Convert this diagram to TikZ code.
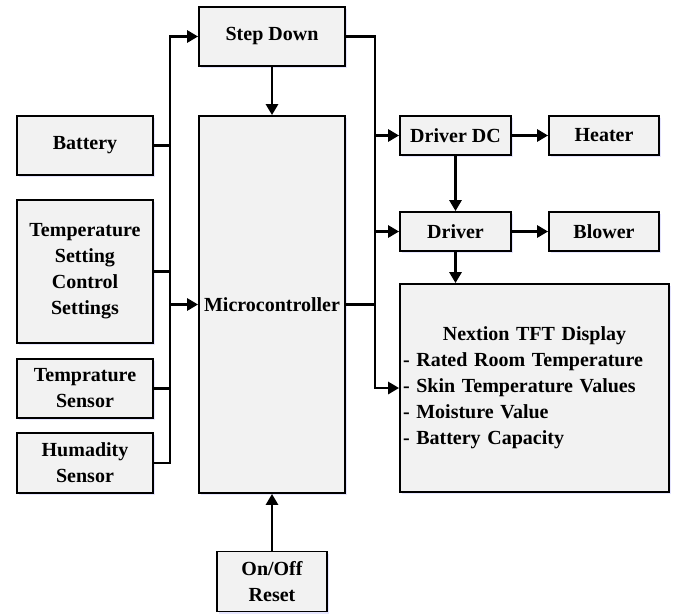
\documentclass[tikz,border=0pt]{standalone}
\usepackage{fontspec}
\setmainfont{Liberation Serif}
\usetikzlibrary{arrows.meta,shadows}
\begin{document}
\begin{tikzpicture}[x=1pt, y=-1pt,
  font=\fontsize{20}{26}\selectfont\bfseries,
  blk/.style={draw, line width=1.8pt, fill=gray!10, align=center, inner sep=2pt,
    drop shadow={shadow xshift=2pt, shadow yshift=-2pt, fill=blue!40!white, opacity=0.25}},
  wire/.style={line width=2.8pt},
  arr/.style={wire, -{Triangle[length=11pt, width=12pt]}}]
  \useasboundingbox (0,0) rectangle (674,613);
  % inputs
  \node[blk, minimum width=136pt, minimum height=59pt] (batt) at (85,145.5) {Battery};
  \node[blk, minimum width=136pt, minimum height=143pt] (tempset) at (85,271.5) {Temperature\\Setting\\Control\\Settings};
  \node[blk, minimum width=136pt, minimum height=59pt] (tsens) at (85,388.5) {Temprature\\Sensor};
  \node[blk, minimum width=136pt, minimum height=60pt] (hsens) at (85,463) {Humadity\\Sensor};
  % core
  \node[blk, minimum width=146pt, minimum height=59pt] (stepdn) at (272,36.5) {Step Down};
  \node[blk, minimum width=146pt, minimum height=377pt] (mcu) at (272,304.5) {Microcontroller};
  \node[blk, minimum width=110pt, minimum height=60pt] (onoff) at (272,581.5) {On/Off\\Reset};
  % outputs
  \node[blk, minimum width=111pt, minimum height=39pt] (drvdc) at (455.5,135.5) {Driver DC};
  \node[blk, minimum width=110pt, minimum height=39pt] (heater) at (604,135.5) {Heater};
  \node[blk, minimum width=111pt, minimum height=39pt] (drv) at (455.5,231.5) {Driver};
  \node[blk, minimum width=110pt, minimum height=39pt] (blower) at (604,231.5) {Blower};
  \node[blk, minimum width=269pt, minimum height=208pt, text width=263pt, align=left] (disp) at (534.5,388)
    {\hfill Nextion TFT Display\hfill\null\\- Rated Room Temperature\\- Skin Temperature Values\\- Moisture Value\\- Battery Capacity};
  % buses
  \coordinate (lbus) at (170,0);
  \coordinate (rbus) at (375,0);
  \draw[arr] (hsens.east) -- (hsens.east -| lbus) |- (stepdn.west);
  \draw[wire] (batt.east) -- (batt.east -| lbus);
  \draw[wire] (tempset.east) -- (tempset.east -| lbus);
  \draw[wire] (tsens.east) -- (tsens.east -| lbus);
  \draw[arr] (mcu.west -| lbus) -- (mcu.west);
  \draw[arr] (stepdn.east) -| (rbus |- disp.west) -- (disp.west);
  \draw[wire] (mcu.east) -- (mcu.east -| rbus);
  \draw[arr] (drvdc.west -| rbus) -- (drvdc.west);
  \draw[arr] (drv.west -| rbus) -- (drv.west);
  \draw[arr] (stepdn.south) -- (mcu.north);
  \draw[arr] (onoff.north) -- (mcu.south);
  \draw[arr] (drvdc.east) -- (heater.west);
  \draw[arr] (drv.east) -- (blower.west);
  \draw[arr] (drvdc.south) -- (drv.north);
  \draw[arr] (drv.south) -- (drv.south |- disp.north);
\end{tikzpicture}
\end{document}
